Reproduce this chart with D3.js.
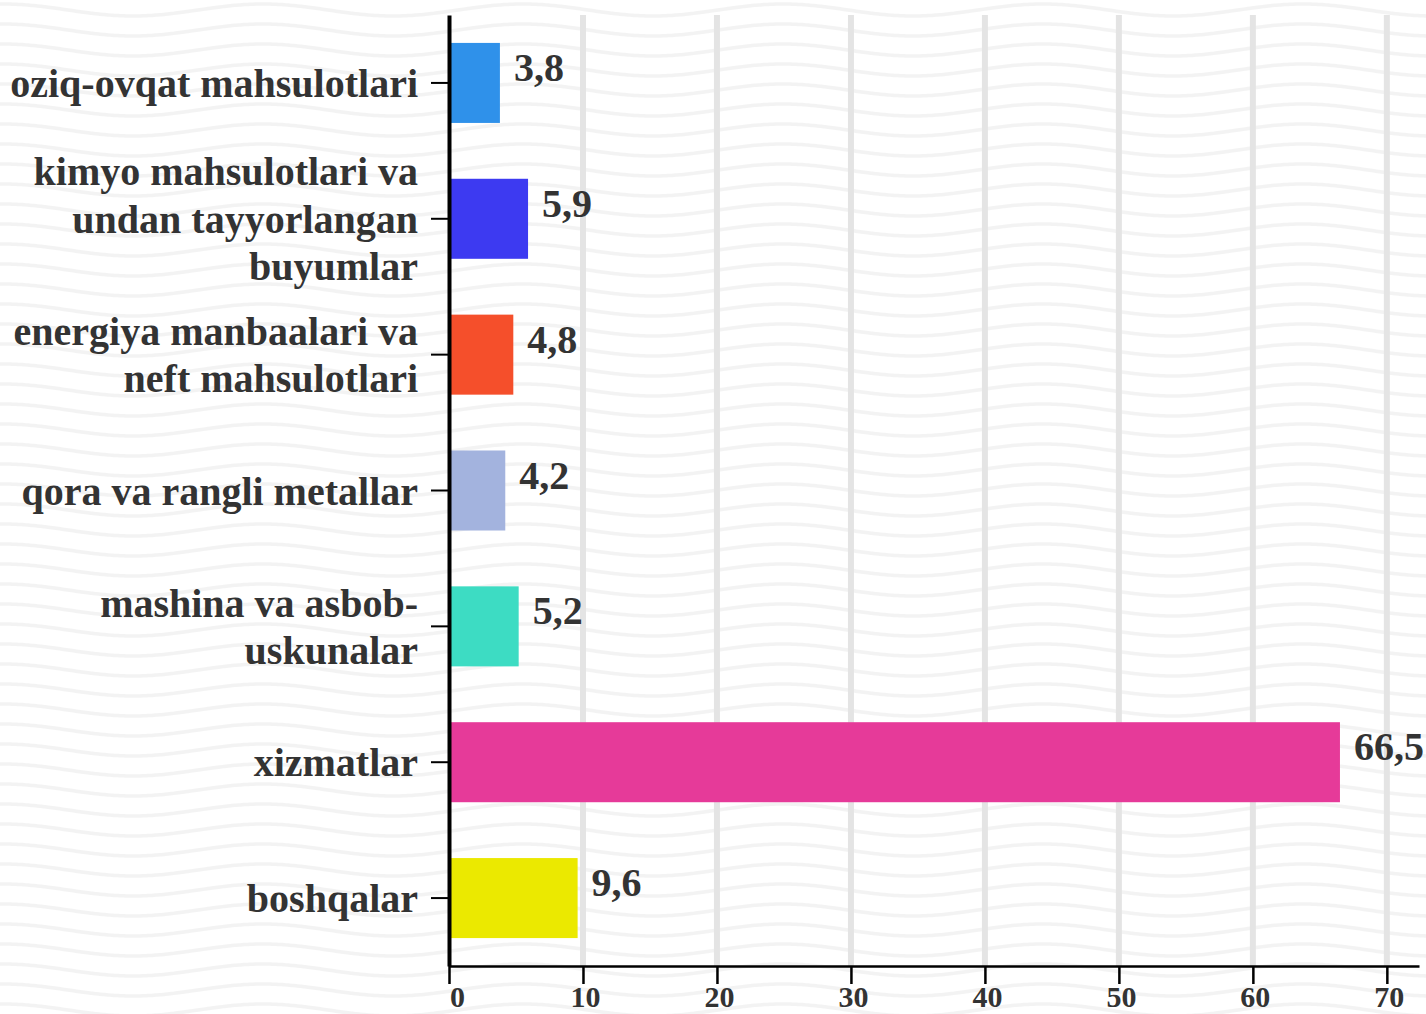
<!DOCTYPE html>
<html>
<head>
<meta charset="utf-8">
<script src="https://cdn.jsdelivr.net/npm/d3@7"></script>
<style>
html, body { margin: 0; padding: 0; background: #ffffff; }
svg { display: block; }
text { font-family: "Liberation Serif", "Times New Roman", serif; font-weight: bold; fill: #333333; }
</style>
</head>
<body>
<svg id="chart" width="1426" height="1014"></svg>
<script>
// ---- data ----
const categories = [
  "oziq-ovqat mahsulotlari",
  "kimyo mahsulotlari va\nundan tayyorlangan\nbuyumlar",
  "energiya manbaalari va\nneft mahsulotlari",
  "qora va rangli metallar",
  "mashina va asbob-\nuskunalar",
  "xizmatlar",
  "boshqalar"
];
const values = [3.8, 5.9, 4.8, 4.2, 5.2, 66.5, 9.6];
const colors = ["#2f91ea", "#3d3af1", "#f54f2b", "#a3b3de", "#3ddcc3", "#e63a99", "#ebe900"];
const xTicks = [0, 10, 20, 30, 40, 50, 60, 70];
const xMax = 72.4;

// ---- setup ----
const W = 1426, H = 1014;
const svg = d3.select("#chart");
const defs = svg.append("defs");

// wavy background pattern (decoration)
const P = 260, S = 20, A = 6;
const pat = defs.append("pattern")
  .attr("id", "waves")
  .attr("patternUnits", "userSpaceOnUse")
  .attr("width", P).attr("height", S);
pat.append("rect").attr("width", P).attr("height", S).attr("fill", "#ffffff");
const wavePts = d3.range(0, P + 1, 4).map(px => [px, S / 2 - A * Math.cos(2 * Math.PI * (px - 3) / P)]);
const waveLine = d3.line().curve(d3.curveCatmullRom);
[-S, 0, S].forEach(off => {
  pat.append("path")
    .attr("d", waveLine(wavePts.map(p => [p[0], p[1] + off])))
    .attr("fill", "none")
    .attr("stroke", "#f3f3f3")
    .attr("stroke-width", 3.5);
});
svg.append("rect").attr("width", W).attr("height", H).attr("fill", "url(#waves)");

// scales
const x = d3.scaleLinear().domain([0, xMax]).range([449, 1419]);
const y = d3.scaleBand().domain(categories).range([15, 966])
  .paddingInner(0.411).paddingOuter(0.2055);

// grid lines
svg.append("g").selectAll("line")
  .data(xTicks.filter(t => t > 0))
  .join("line")
  .attr("x1", d => x(d)).attr("x2", d => x(d))
  .attr("y1", 15).attr("y2", 966)
  .attr("stroke", "#e4e4e4")
  .attr("stroke-width", 6);

// bars
svg.append("g").selectAll("rect")
  .data(categories)
  .join("rect")
  .attr("x", x(0))
  .attr("y", d => y(d))
  .attr("width", (d, i) => x(values[i]) - x(0))
  .attr("height", y.bandwidth())
  .attr("fill", (d, i) => colors[i]);

// value labels
const locale = d3.formatLocale({ decimal: ",", thousands: " ", grouping: [3], currency: ["", ""] });
const fmt = locale.format(".1f");
svg.append("g").selectAll("text")
  .data(categories)
  .join("text")
  .attr("x", (d, i) => x(values[i]) + 14)
  .attr("y", d => y(d) + y.bandwidth() / 2 - 2)
  .attr("font-size", 40)
  .text((d, i) => fmt(values[i]));

// y axis
const yAxis = svg.append("g")
  .attr("transform", `translate(${x(0)},0)`)
  .call(d3.axisLeft(y).tickSize(18).tickSizeOuter(0).tickPadding(13));
yAxis.select(".domain").attr("stroke", "#000").attr("stroke-width", 4);
yAxis.selectAll(".tick line").attr("stroke", "#000").attr("stroke-width", 2);
yAxis.selectAll(".tick text")
  .attr("font-size", 40)
  .attr("dy", null)
  .style("font-family", "'Liberation Serif', 'Times New Roman', serif")
  .style("font-weight", "bold")
  .attr("fill", "#333")
  .each(function (d) {
    const lines = d.split("\n");
    const t = d3.select(this);
    t.text(null);
    const n = lines.length;
    lines.forEach((ln, i) => {
      t.append("tspan")
        .attr("x", -31)
        .attr("y", 14 + (i - (n - 1) / 2) * 47.5)
        .text(ln);
    });
  });

// x axis
const xAxis = svg.append("g")
  .attr("transform", "translate(0,966)")
  .call(d3.axisBottom(x).tickValues(xTicks).tickSize(18).tickSizeOuter(0).tickPadding(2));
xAxis.select(".domain").attr("stroke", "#000").attr("stroke-width", 2.5);
xAxis.selectAll(".tick line").attr("stroke", "#000").attr("stroke-width", 2.5);
xAxis.selectAll(".tick text")
  .attr("font-size", 30)
  .attr("dx", d => d === 0 ? 8 : 2)
  .style("font-family", "'Liberation Serif', 'Times New Roman', serif")
  .style("font-weight", "bold")
  .attr("fill", "#333");
</script>
</body>
</html>
